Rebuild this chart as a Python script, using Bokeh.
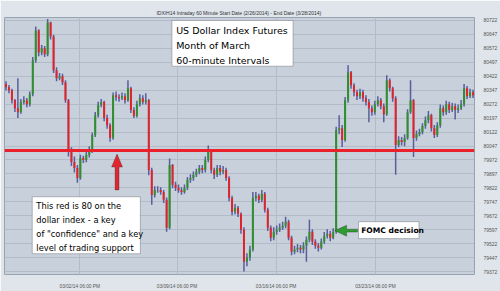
from bokeh.plotting import figure
from bokeh.models import (Range1d, FixedTicker, Span, BoxAnnotation, Label,
                          PolyAnnotation, ColumnDataSource, Title)
from bokeh.embed import file_html
from bokeh.resources import INLINE

# ---------------- data ----------------
first_open = 80380
close = [80363, 80347, 80293, 80250, 80229, 80283, 80293, 80272, 80325, 80508,
         80668, 80550, 80572, 80540, 80711, 80636, 80454, 80411, 80422, 80390,
         80293, 80015, 79961, 79929, 79875, 79983, 79972, 79999, 80025, 80106,
         80213, 80267, 80283, 80197, 80159, 80090, 80320, 80309, 80304, 80315,
         80293, 80358, 80240, 80208, 80272, 80304, 80283, 80293, 79918, 79784,
         79811, 79811, 79800, 79758, 79608, 79945, 79838, 79822, 79811, 79800,
         79822, 79865, 79875, 79892, 79908, 79929, 79918, 79972, 80025, 79918,
         79892, 79929, 79908, 79918, 79875, 79768, 79693, 79715, 79683, 79597,
         79425, 79447, 79490, 79768, 79779, 79758, 79790, 79704, 79608, 79554,
         79586, 79597, 79608, 79618, 79640, 79554, 79479, 79490, 79500, 79490,
         79511, 79543, 79586, 79533, 79511, 79500, 79533, 79565, 79575, 79554,
         79586, 80133, 80143, 80079, 80293, 80443, 80374, 80336, 80315, 80336,
         80304, 80283, 80250, 80229, 80272, 80293, 80261, 80218, 80400, 80358,
         80304, 80052, 80079, 80068, 80090, 80229, 80293, 80090, 80111, 80122,
         80154, 80186, 80213, 80143, 80106, 80159, 80250, 80229, 80272, 80240,
         80261, 80240, 80250, 80272, 80358, 80315, 80336, 80320]
high = [80395, 80375, 80355, 80300, 80411, 80300, 80315, 80305, 80340, 80525,
        80690, 80675, 80590, 80585, 80730, 80715, 80645, 80470, 80440, 80435,
        80400, 80300, 80040, 79990, 79945, 80000, 79995, 80015, 80045, 80120,
        80230, 80285, 80300, 80290, 80215, 80170, 80335, 80340, 80325, 80335,
        80330, 80400, 80365, 80255, 80290, 80325, 80320, 80330, 80300, 79930,
        79830, 79830, 79825, 79810, 79770, 79980, 79950, 79855, 79840, 79825,
        79840, 79880, 79895, 79910, 79925, 79945, 79945, 79990, 80050, 80030,
        79930, 79945, 79945, 79940, 79930, 79885, 79780, 79735, 79725, 79690,
        79610, 79470, 79510, 79800, 79800, 79790, 79811, 79800, 79715, 79620,
        79610, 79620, 79630, 79640, 79667, 79650, 79565, 79510, 79520, 79515,
        79530, 79560, 79651, 79600, 79545, 79525, 79550, 79585, 79600, 79590,
        79605, 80150, 80213, 80160, 80310, 80481, 80450, 80385, 80350, 80355,
        80350, 80320, 80300, 80265, 80290, 80315, 80305, 80275, 80427, 80410,
        80365, 80315, 80100, 80095, 80110, 80245, 80400, 80300, 80130, 80140,
        80170, 80205, 80235, 80220, 80160, 80175, 80270, 80265, 80290, 80285,
        80280, 80275, 80270, 80295, 80380, 80370, 80355, 80350]
low = [80345, 80330, 80275, 80230, 80197, 80220, 80270, 80255, 80260, 80315,
       80495, 80530, 80535, 80525, 80530, 80620, 80440, 80395, 80400, 80375,
       80280, 79990, 79940, 79905, 79849, 79865, 79955, 79960, 79985, 80010,
       80095, 80200, 80255, 80180, 80140, 80070, 80080, 80290, 80285, 80295,
       80275, 80285, 80225, 80197, 80200, 80260, 80270, 80270, 79890, 79731,
       79770, 79795, 79785, 79740, 79586, 79600, 79820, 79805, 79795, 79785,
       79790, 79810, 79850, 79860, 79880, 79895, 79900, 79905, 79960, 79900,
       79870, 79880, 79890, 79895, 79860, 79750, 79675, 79680, 79665, 79575,
       79372, 79400, 79430, 79480, 79750, 79740, 79745, 79690, 79590, 79535,
       79540, 79570, 79585, 79595, 79605, 79540, 79460, 79465, 79475, 79470,
       79470, 79425, 79530, 79515, 79495, 79480, 79490, 79520, 79550, 79535,
       79545, 79575, 80110, 80042, 80070, 80280, 80355, 80315, 80295, 80300,
       80285, 80265, 80175, 80210, 80215, 80260, 80245, 80175, 80210, 80340,
       80285, 79892, 80040, 80050, 80045, 80080, 80220, 79988, 80075, 80100,
       80110, 80140, 80170, 80125, 80090, 80095, 80145, 80210, 80215, 80225,
       80230, 80190, 80225, 80240, 80260, 80300, 80305, 80305]

y_ticks = [79372, 79447, 79522, 79597, 79672, 79747, 79822, 79897, 79972, 80047,
           80122, 80197, 80272, 80347, 80422, 80497, 80572, 80647, 80722]
x_tick_pos = [24.8, 57.5, 90.8, 124.2]
x_tick_labels = ["03/02/14 06:00 PM", "03/09/14 06:00 PM",
                 "03/16/14 06:00 PM", "03/23/14 06:00 PM"]
support_level = 80023
header = "IDX/H14 Intraday  60 Minute Start Date (2/26/2014) - End Date (3/28/2014)"

# ---------------- build ----------------
n = len(close)
opens = [first_open] + close[:-1]
xs = list(range(n))
colors = ["#2f8f2f" if c >= o else "#e0232b" for o, c in zip(opens, close)]
src = ColumnDataSource(dict(x=xs, open=opens, close=close, high=high, low=low, color=colors))

p = figure(width=500, height=291, output_backend="svg", toolbar_location=None,
           x_range=Range1d(-0.5, 157.5), y_range=Range1d(79356, 80738),
           y_axis_location="right",
           min_border_left=4, min_border_right=22, min_border_top=17, min_border_bottom=16)

p.background_fill_color = "#c7d0db"
p.border_fill_color = "#dfe5eb"
p.outline_line_color = "#98a3b0"

t = Title(text=header, align="center", text_font_size="5px", text_font_style="normal",
          text_color="#333333", text_font="Liberation Sans", standoff=3)
p.add_layout(t, "above")

p.xaxis.ticker = FixedTicker(ticks=x_tick_pos)
p.xaxis.major_label_overrides = {pos: lab for pos, lab in zip(x_tick_pos, x_tick_labels)}
p.yaxis.ticker = FixedTicker(ticks=y_ticks)
for ax in (p.xaxis[0], p.yaxis[0]):
    ax.axis_line_color = None
    ax.major_tick_line_color = None
    ax.minor_tick_line_color = None
    ax.major_label_text_color = "#555555"
    ax.major_label_text_font = "Liberation Sans"
    ax.major_label_standoff = 3
p.xaxis.major_label_text_font_size = "4.8px"
p.yaxis.major_label_text_font_size = "5px"

p.xgrid.grid_line_color = "#b2bcc8"
p.ygrid.grid_line_color = "#b2bcc8"

p.segment(x0="x", y0="low", x1="x", y1="high", source=src, line_color="#5a5e9c", line_width=1.5)
p.segment(x0="x", y0="open", x1="x", y1="close", source=src, line_color="color", line_width=2)

p.add_layout(Span(location=support_level, dimension="width", line_color="#e8212b", line_width=3))

FONT = "DejaVu Sans"

# title box
p.add_layout(BoxAnnotation(left=55.8, right=96.5, top=80722, bottom=80476,
                           fill_color="white", fill_alpha=1, line_color="#333333", line_width=1))
for yy, txt in zip([80668, 80588, 80505],
                   ["US Dollar Index Futures", "Month of March", "60-minute Intervals"]):
    p.add_layout(Label(x=57.2, y=yy, text=txt, text_font=FONT, text_font_size="9.5px",
                       text_baseline="middle", text_color="black"))

# note box
p.add_layout(BoxAnnotation(left=8.83, right=45.17, top=79774, bottom=79468,
                           fill_color="white", fill_alpha=1, line_color="#333333", line_width=1))
for yy, txt in zip([79726, 79651, 79576, 79501],
                   ["This red is 80 on the", "dollar index - a key",
                    "of \"confidence\" and a key", "level of trading support"]):
    p.add_layout(Label(x=10.2, y=yy, text=txt, text_font=FONT, text_font_size="8.3px",
                       text_baseline="middle", text_color="black"))

# red up arrow
p.add_layout(PolyAnnotation(xs=[37.33, 39.17, 38.0, 38.0, 36.67, 36.67, 35.5],
                            ys=[80004, 79934, 79934, 79811, 79811, 79934, 79934],
                            fill_color="#e3262e", fill_alpha=1, line_color="#222222", line_width=1))

# green left arrow
p.add_layout(PolyAnnotation(xs=[110.5, 114.5, 114.5, 118.17, 118.17, 114.5, 114.5],
                            ys=[79592, 79621, 79600, 79600, 79584, 79584, 79562],
                            fill_color="#2f9a2f", fill_alpha=1, line_color="#222222", line_width=1))

# FOMC box
p.add_layout(BoxAnnotation(left=118.5, right=138.83, top=79640, bottom=79549,
                           fill_color="white", fill_alpha=1, line_color="#333333", line_width=1))
p.add_layout(Label(x=119.4, y=79594, text="FOMC decision", text_font=FONT, text_font_size="7.6px",
                   text_font_style="bold", text_baseline="middle", text_color="black"))

open("out.html", "w").write(file_html(p, INLINE))
